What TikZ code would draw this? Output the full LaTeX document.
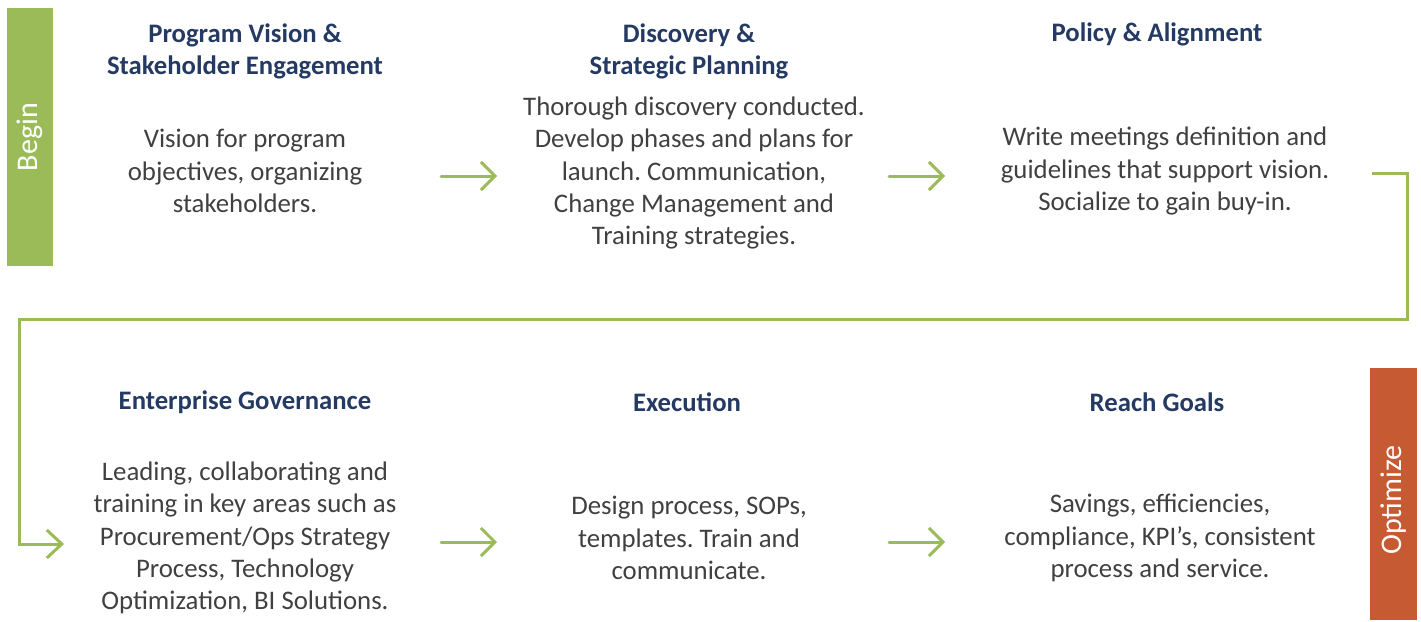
\documentclass[tikz,border=0pt]{standalone}
\usepackage{fontspec}
\setmainfont{Carlito}
\usetikzlibrary{arrows.meta}
\definecolor{leafgreen}{HTML}{9BBB59}
\definecolor{rust}{HTML}{C65A32}
\definecolor{navy}{HTML}{243A63}
\definecolor{bodygray}{HTML}{404040}
\frenchspacing
\begin{document}
\begin{tikzpicture}[x=1pt,y=-1pt,
  titletext/.style={font=\fontsize{26.7}{32}\selectfont\bfseries, text=navy, align=center, inner sep=0pt},
  bodytext/.style={font=\fontsize{26.8}{32.3}\selectfont, text=bodygray, align=center, inner sep=0pt},
  sidelabel/.style={font=\fontsize{30}{34}\selectfont, text=white, rotate=90, inner sep=0pt},
  flow/.style={draw=leafgreen, line width=3pt, line cap=round, line join=miter,
    -{Straight Barb[length=14pt,width=28pt,line width=3pt]}},
  turn/.style={draw=leafgreen, line width=3pt, line join=miter,
    -{Straight Barb[length=15pt,width=28pt,line width=3pt]}}]
\useasboundingbox (0,0) rectangle (1421,621);

% side bars
\fill[leafgreen] (7,8) rectangle (53,266);
\node[sidelabel] (begin) at (30,137) {Begin};
\fill[rust] (1370,368) rectangle (1417,620);
\node[sidelabel] (optimize) at (1393.5,500) {Optimize};

% first row
\node[titletext] (t1) at (245,51) {Program Vision \&\\Stakeholder Engagement};
\node[bodytext] (b1) at (245,171) {Vision for program\\objectives, organizing\\stakeholders.};
\node[titletext] (t2) at (689,51) {Discovery \&\\Strategic Planning};
\node[bodytext] (b2) at (694,173) {Thorough discovery conducted.\\Develop phases and plans for\\launch. Communication,\\Change Management and\\Training strategies.};
\node[titletext] (t3) at (1157,34) {Policy \& Alignment};
\node[bodytext] (b3) at (1165,171) {Write meetings definition and\\guidelines that support vision.\\Socialize to gain buy-in.};

% second row
\node[titletext] (t4) at (245,402) {Enterprise Governance};
\node[bodytext] (b4) at (245,538) {Leading, collaborating and\\training in key areas such as\\Procurement/Ops Strategy\\Process, Technology\\Optimization, BI Solutions.};
\node[titletext] (t5) at (687,402) {Execution};
\node[bodytext] (b5) at (689,538) {Design process, SOPs,\\templates. Train and\\communicate.};
\node[titletext] (t6) at (1157,402) {Reach Goals};
\node[bodytext] (b6) at (1160,538) {Savings, efficiencies,\\compliance, KPI’s, consistent\\process and service.};

% connector end points
\coordinate (a1s) at (441,176);
\coordinate (a1e) at (497,176);
\coordinate (a2s) at (889,176);
\coordinate (a2e) at (945,176);
\coordinate (a3s) at (441,542);
\coordinate (a3e) at (497,542);
\coordinate (a4s) at (889,542);
\coordinate (a4e) at (945,542);
\coordinate (wrapstart) at (1372,173);
\coordinate (wrapend) at (64,544);

\draw[flow] (a1s) -- (a1e);
\draw[flow] (a2s) -- (a2e);
\draw[flow] (a3s) -- (a3e);
\draw[flow] (a4s) -- (a4e);
\draw[turn] (wrapstart) -| (1407,319) -| (19,544) -- (wrapend);
\end{tikzpicture}
\end{document}
